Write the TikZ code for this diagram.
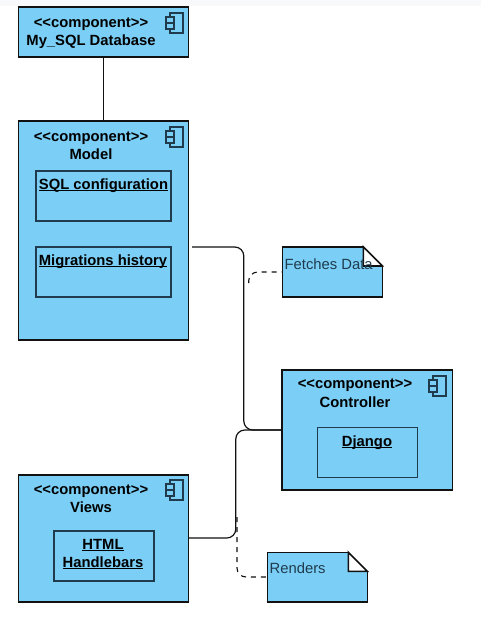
\documentclass[tikz,border=0pt]{standalone}
\usepackage{fontspec}
\setmainfont{Liberation Sans}
\definecolor{compblue}{HTML}{7BCFF6}
\definecolor{topstrip}{HTML}{F8F9FA}
\definecolor{edgeink}{HTML}{111111}
\definecolor{innerink}{HTML}{1F3B4D}
\newcommand{\ulin}[1]{\setbox0=\hbox{#1}\rlap{\rule[-2pt]{\wd0}{1.2pt}}\box0}
\tikzset{
  x=1pt,y=-1pt,
  compbox/.style={draw=edgeink,fill=compblue,line width=1.6pt,anchor=north west,inner sep=0pt,outer sep=0pt},
  innerbox/.style={draw=innerink,fill=compblue,line width=1.5pt,anchor=north west,inner sep=0pt,outer sep=0pt},
  lab/.style={font=\fontsize{14.8}{16}\selectfont\bfseries,text=black,inner sep=0pt,anchor=base},
  notetxt/.style={font=\fontsize{14.8}{16}\selectfont,text=innerink,inner sep=0pt,anchor=base west},
  wire/.style={draw=edgeink,line width=1.2pt,rounded corners=9pt},
  dashwire/.style={draw=edgeink,line width=1.1pt,dash pattern=on 5pt off 5pt,rounded corners=9pt},
  compicon/.style={draw=innerink,line width=1.2pt},
  notefill/.style={fill=compblue,draw=edgeink,line width=1.5pt},
}
\newcommand{\compglyph}[2]{%
  \draw[compicon] (#1+4,#2) rectangle (#1+17,#2+20);
  \draw[compicon,fill=compblue] (#1,#2+4) rectangle (#1+8,#2+10);
  \draw[compicon,fill=compblue] (#1,#2+10) rectangle (#1+8,#2+16);
}
\newcommand{\notepage}[4]{% x y w h
  \draw[notefill] (#1,#2) -- (#1+#3-19,#2) -- (#1+#3-19,#2+19) -- (#1+#3,#2+19) -- (#1+#3,#2+#4) -- (#1,#2+#4) -- cycle;
  \draw[draw=edgeink,line width=1.5pt,fill=white] (#1+#3-19,#2) -- (#1+#3,#2+19) -- (#1+#3-19,#2+19) -- cycle;
}
\begin{document}
\begin{tikzpicture}
\useasboundingbox (0,0) rectangle (481,641);
\fill[topstrip] (0,0) rectangle (481,6);

% components
\node[compbox,minimum width=170pt,minimum height=50.5pt] (db) at (18.5,6.7) {};
\node[compbox,minimum width=170pt,minimum height=219.3pt] (model) at (18.5,120.7) {};
\node[compbox,minimum width=170.3pt,minimum height=120pt] (ctrl) at (282.2,369.8) {};
\node[compbox,minimum width=170pt,minimum height=127.5pt] (views) at (18.5,474.7) {};

% inner boxes
\node[innerbox,minimum width=135pt,minimum height=50pt] (sql) at (36,171) {};
\node[innerbox,minimum width=135pt,minimum height=50pt] (mig) at (36,247) {};
\node[innerbox,minimum width=100pt,minimum height=50pt] (dj) at (317.3,427.3) {};
\node[innerbox,minimum width=100pt,minimum height=50pt] (html) at (54,531) {};

% icons
\compglyph{166}{13}
\compglyph{166}{127}
\compglyph{429}{376}
\compglyph{166}{480}

% labels
\node[lab] (t1) at (91,27) {<{}<component>{}>};
\node[lab] (t2) at (91,45) {My\_SQL Database};
\node[lab] (t3) at (91,141) {<{}<component>{}>};
\node[lab] (t4) at (91,159) {Model};
\node[lab] (t5) at (103.5,189) {\ulin{SQL configuration}};
\node[lab] (t6) at (103,265) {\ulin{Migrations history}};
\node[lab] (t7) at (355,388.5) {<{}<component>{}>};
\node[lab] (t8) at (355,407) {Controller};
\node[lab] (t9) at (367,446) {\ulin{Django}};
\node[lab] (t10) at (91,494) {<{}<component>{}>};
\node[lab] (t11) at (91,512) {Views};
\node[lab] (t12) at (103,549) {\ulin{HTML}};
\node[lab] (t13) at (103,567) {\ulin{Handlebars}};

% notes
\notepage{282.3}{246.8}{100}{50}
\notepage{267.3}{552.3}{100}{49.5}
\node[notetxt] (nt1) at (284.5,269) {Fetches Data};
\node[notetxt] (nt2) at (269.5,573.5) {Renders};

% connectors
\coordinate (mr) at (192,247);
\coordinate (c1) at (282,430);
\coordinate (fr) at (282.3,272);
\coordinate (rr) at (267.3,577);
\coordinate (vr) at (188.5,538);
\coordinate (df) at (248.7,283);
\coordinate (dr) at (237,517);
\draw[wire] (db.south-|model.north) -- (model.north);
\draw[wire] (mr) -- (243.8,247) -- (243.8,430) -- (c1);
\draw[wire] (vr) -- (235.8,538) -- (235.8,430) -- (c1);
\draw[dashwire] (df) -- (248.7,272) -- (fr);
\draw[dashwire] (dr) -- (237,577) -- (rr);
\end{tikzpicture}
\end{document}
